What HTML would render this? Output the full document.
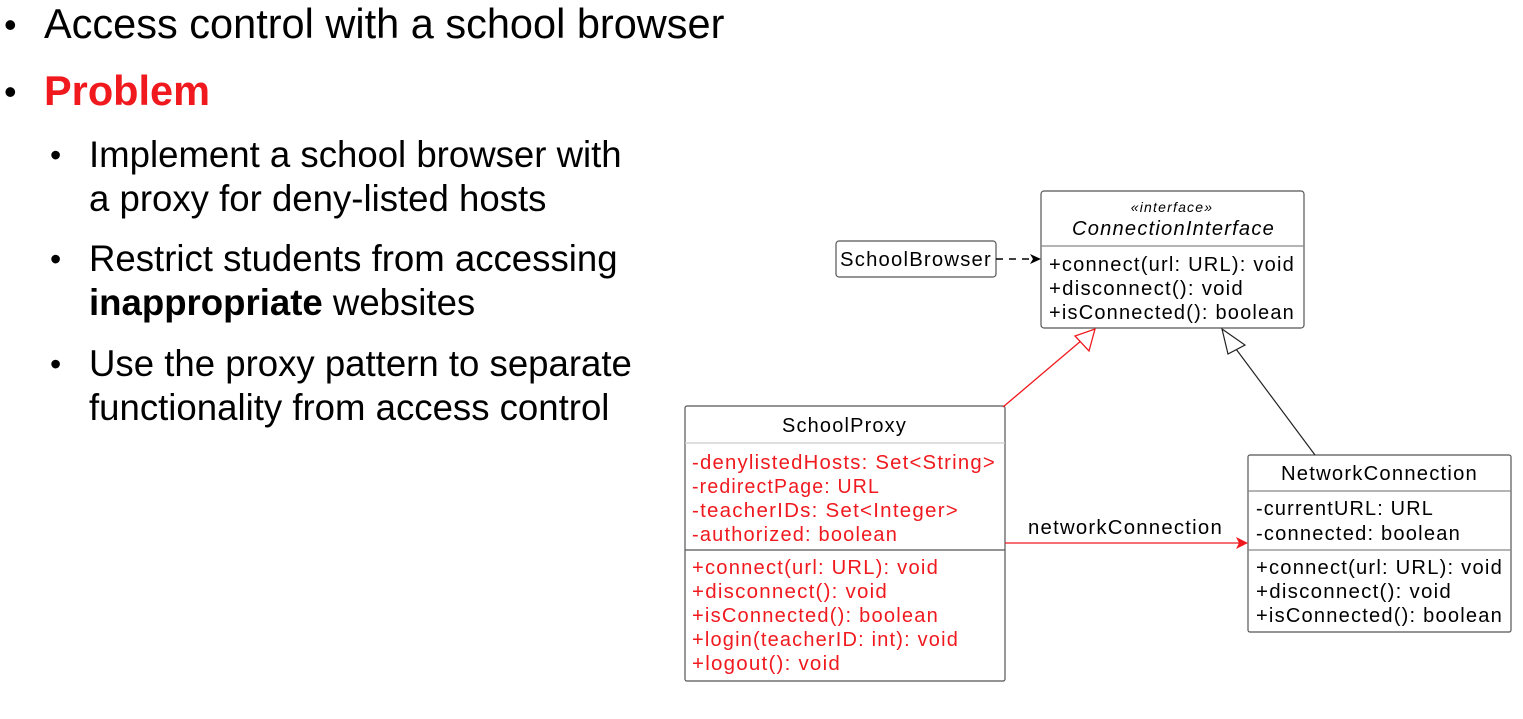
<!DOCTYPE html>
<html><head><meta charset="utf-8"><style>
body{margin:0;width:1523px;height:719px;background:#fff;overflow:hidden;font-family:"Liberation Sans",Arial,sans-serif}
.t{position:absolute;white-space:nowrap;color:#000}
</style></head><body>
<div class="t" style="left:4px;top:4px;font-size:36px">•</div>
<div class="t" style="left:44px;top:0px;font-size:41.5px">Access control with a school browser</div>
<div class="t" style="left:4px;top:71px;font-size:36px">•</div>
<div class="t" style="left:44px;top:67px;font-size:41.5px;color:#f0191e;font-weight:bold">Problem</div>
<div class="t" style="left:50px;top:137px;font-size:32px">•</div>
<div class="t" style="left:89px;top:133px;font-size:36.6px;line-height:44px">Implement a school browser with<br>a proxy for deny-listed hosts</div>
<div class="t" style="left:50px;top:241px;font-size:32px">•</div>
<div class="t" style="left:89px;top:237px;font-size:36.6px;line-height:44px">Restrict students from accessing<br><b>inappropriate</b> websites</div>
<div class="t" style="left:50px;top:346px;font-size:32px">•</div>
<div class="t" style="left:89px;top:342px;font-size:36.6px;line-height:44px">Use the proxy pattern to separate<br>functionality from access control</div>

<svg width="1523" height="719" style="position:absolute;left:0;top:0" font-family="Liberation Sans, Arial, sans-serif" font-size="20" letter-spacing="1.2">
<g fill="#fff" stroke="#555" stroke-width="1.2">
<rect x="836" y="241" width="160" height="36" rx="3"/>
<rect x="1041" y="191" width="263" height="137" rx="3"/>
<rect x="685" y="406" width="320" height="275" rx="2"/>
<rect x="1248" y="455" width="263" height="177" rx="2"/>
</g>
<g stroke="#888" stroke-width="1.2">
<line x1="1041" y1="246" x2="1304" y2="246"/>
<line x1="685" y1="443" x2="1005" y2="443" stroke="#ccc"/>
<line x1="685" y1="550" x2="1005" y2="550" stroke="#555"/>
<line x1="1248" y1="491" x2="1511" y2="491"/>
<line x1="1248" y1="550" x2="1511" y2="550"/>
</g>
<text x="840" y="266" textLength="152" lengthAdjust="spacingAndGlyphs">SchoolBrowser</text>
<text x="1172" y="212" text-anchor="middle" font-style="italic" font-size="14">«interface»</text>
<text x="1072" y="235" font-style="italic" textLength="203" lengthAdjust="spacingAndGlyphs">ConnectionInterface</text>
<text x="1049" y="271" textLength="246" lengthAdjust="spacingAndGlyphs">+connect(url: URL): void</text>
<text x="1049" y="295" textLength="195" lengthAdjust="spacingAndGlyphs">+disconnect(): void</text>
<text x="1049" y="319" textLength="246" lengthAdjust="spacingAndGlyphs">+isConnected(): boolean</text>
<text x="782" y="432" textLength="125" lengthAdjust="spacingAndGlyphs">SchoolProxy</text>
<g fill="#f0191e">
<text x="692" y="469" textLength="304" lengthAdjust="spacingAndGlyphs">-denylistedHosts: Set&lt;String&gt;</text>
<text x="692" y="493" textLength="188" lengthAdjust="spacingAndGlyphs">-redirectPage: URL</text>
<text x="692" y="517" textLength="267" lengthAdjust="spacingAndGlyphs">-teacherIDs: Set&lt;Integer&gt;</text>
<text x="692" y="541" textLength="206" lengthAdjust="spacingAndGlyphs">-authorized: boolean</text>
<text x="692" y="574" textLength="247" lengthAdjust="spacingAndGlyphs">+connect(url: URL): void</text>
<text x="692" y="598" textLength="196" lengthAdjust="spacingAndGlyphs">+disconnect(): void</text>
<text x="692" y="622" textLength="247" lengthAdjust="spacingAndGlyphs">+isConnected(): boolean</text>
<text x="692" y="646" textLength="267" lengthAdjust="spacingAndGlyphs">+login(teacherID: int): void</text>
<text x="692" y="670" textLength="149" lengthAdjust="spacingAndGlyphs">+logout(): void</text>
</g>
<text x="1281" y="480" textLength="197" lengthAdjust="spacingAndGlyphs">NetworkConnection</text>
<text x="1256" y="515" textLength="178" lengthAdjust="spacingAndGlyphs">-currentURL: URL</text>
<text x="1256" y="540" textLength="205" lengthAdjust="spacingAndGlyphs">-connected: boolean</text>
<text x="1256" y="574" textLength="247" lengthAdjust="spacingAndGlyphs">+connect(url: URL): void</text>
<text x="1256" y="598" textLength="196" lengthAdjust="spacingAndGlyphs">+disconnect(): void</text>
<text x="1256" y="622" textLength="247" lengthAdjust="spacingAndGlyphs">+isConnected(): boolean</text>
<text x="1028" y="534" textLength="195" lengthAdjust="spacingAndGlyphs">networkConnection</text>
<!-- dashed dependency -->
<line x1="996" y1="259" x2="1036" y2="259" stroke="#000" stroke-width="1.5" stroke-dasharray="7,6"/>
<path d="M1030,254 L1041,259 L1030,264 L1033,259 Z" fill="#000"/>
<!-- red realization -->
<line x1="1003" y1="407" x2="1082" y2="340" stroke="#f0191e" stroke-width="1.3"/>
<path d="M1095,329 L1089,351 L1075,336 Z" fill="#fff" stroke="#f0191e" stroke-width="1.3"/>
<!-- black realization -->
<line x1="1315" y1="455" x2="1236" y2="349" stroke="#222" stroke-width="1.2"/>
<path d="M1222,329 L1245,345 L1228,354 Z" fill="#fff" stroke="#222" stroke-width="1.2"/>
<!-- association -->
<line x1="1005" y1="543" x2="1244" y2="543" stroke="#f0191e" stroke-width="1.3"/>
<path d="M1236,537 L1248,543 L1236,549 L1239,543 Z" fill="#f0191e"/>
</svg>
</body></html>
